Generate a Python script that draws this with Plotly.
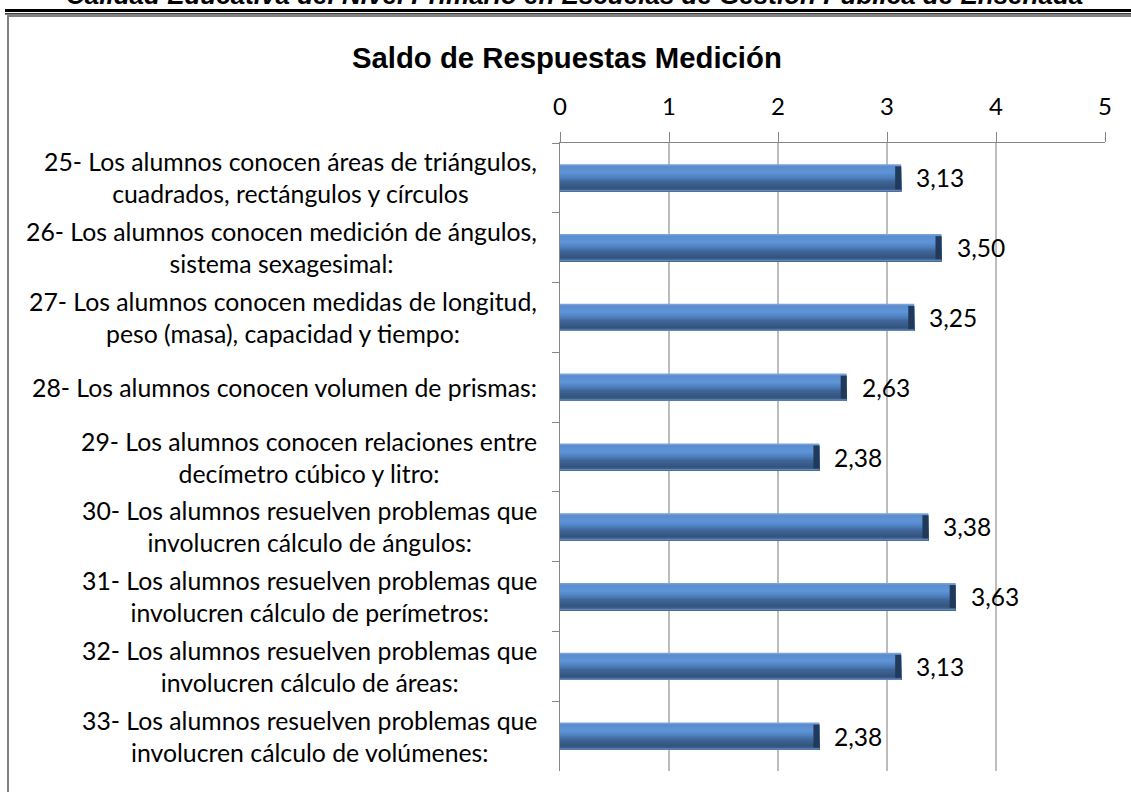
import plotly.graph_objects as go

categories = [
    "25- Los alumnos conocen áreas de triángulos,<br>cuadrados, rectángulos y círculos",
    "26- Los alumnos conocen medición de ángulos,<br>sistema sexagesimal:",
    "27- Los alumnos conocen medidas de longitud,<br>peso (masa), capacidad y tiempo:",
    "28- Los alumnos conocen volumen de prismas:",
    "29- Los alumnos conocen relaciones entre<br>decímetro cúbico y litro:",
    "30- Los alumnos resuelven problemas que<br>involucren cálculo de ángulos:",
    "31- Los alumnos resuelven problemas que<br>involucren cálculo de perímetros:",
    "32- Los alumnos resuelven problemas que<br>involucren cálculo de áreas:",
    "33- Los alumnos resuelven problemas que<br>involucren cálculo de volúmenes:",
]
values = [3.13, 3.50, 3.25, 2.63, 2.38, 3.38, 3.63, 3.13, 2.38]
x_ticks = [0, 1, 2, 3, 4, 5]
title_text = "Saldo de Respuestas Medición"
header_text = "Calidad Educativa del Nivel Primario en Escuelas de Gestión Pública de Ensenada"

W, H = 1131, 792
# plot area in page pixels: x 560..1105, y 143..771
PL, PR, PT, PB = 560, 1105, 143, 771
L, R, T, B = PL, W - PR, PT, H - PB
PW = PR - PL
PH = PB - PT


def px(xp):
    return (xp - PL) / PW


def py(yp):
    return (PB - yp) / PH


def hex2rgb(h):
    h = h.lstrip("#")
    return tuple(int(h[i:i + 2], 16) for i in (0, 2, 4))


def grad_color(stops, t):
    for (t0, c0), (t1, c1) in zip(stops, stops[1:]):
        if t0 <= t <= t1:
            f = 0 if t1 == t0 else (t - t0) / (t1 - t0)
            a, b = hex2rgb(c0), hex2rgb(c1)
            return "rgb(%d,%d,%d)" % tuple(round(a[i] + (b[i] - a[i]) * f) for i in range(3))
    return stops[-1][1]


FONT = "Lato"
fig = go.Figure()

# vertical gradient imitating the bevelled bar (top -> bottom); each slice runs
# from its own top edge down to the bar bottom so no seams show between slices
BW = 0.39
stops = [(0.0, "#86ABDC"), (0.08, "#5A8DCF"), (0.3, "#5F95D8"), (0.5, "#4C7DBB"),
         (0.62, "#3F6698"), (0.86, "#34547F"), (0.93, "#3D618F"), (1.0, "#7C9ECD")]
NS = 18
for k in range(NS):
    t = (k + 0.5) / NS
    fig.add_trace(go.Bar(
        x=values, y=categories, orientation="h",
        offset=-BW / 2 + k * BW / NS, width=BW - k * BW / NS,
        marker=dict(color=grad_color(stops, t), line=dict(width=0)),
        hoverinfo="skip", showlegend=False,
    ))

# dark right-end cap
cap = 0.055
fig.add_trace(go.Bar(
    x=[cap] * len(values), base=[v - cap for v in values], y=categories,
    orientation="h", offset=-BW / 2 + 0.03, width=BW - 0.06,
    marker=dict(color="#22395A", line=dict(width=0)),
    hoverinfo="skip", showlegend=False,
))

fig.update_layout(
    width=W, height=H,
    margin=dict(l=L, r=R, t=T, b=B, pad=0),
    paper_bgcolor="white", plot_bgcolor="white",
    barmode="overlay",
    font=dict(family=FONT, size=24, color="black"),
    xaxis=dict(
        side="top", range=[0, 5], tickvals=x_ticks,
        ticktext=[str(t) for t in x_ticks],
        showgrid=True, gridcolor="#BDBDBD", gridwidth=1.5,
        showline=True, linecolor="#868686", linewidth=1,
        ticks="outside", ticklen=10, tickcolor="#868686",
        ticklabelstandoff=7,
        tickfont=dict(family=FONT, size=24, color="black"),
        zeroline=False, fixedrange=True,
    ),
    yaxis=dict(
        type="category", categoryorder="array", categoryarray=categories,
        autorange="reversed", showticklabels=False,
        showline=True, linecolor="#868686", linewidth=1,
        ticks="outside", ticklen=7, tickcolor="#868686",
        tickson="boundaries", showgrid=False, zeroline=False,
        fixedrange=True,
    ),
)

annotations = []
for c, v in zip(categories, values):
    annotations.append(dict(
        xref="paper", yref="y", x=0, y=c, xanchor="right", yanchor="middle",
        xshift=-21, text=c, align="center", showarrow=False,
        font=dict(family=FONT, size=24.8, color="black"),
    ))
    annotations.append(dict(
        xref="x", yref="y", x=v, y=c, xanchor="left", yanchor="middle",
        xshift=13, text=f"{v:.2f}".replace(".", ","), showarrow=False,
        font=dict(family=FONT, size=24.5, color="black"),
    ))

annotations.append(dict(
    xref="paper", yref="paper", x=px(567), y=py(58), xanchor="center",
    yanchor="middle", text=f"<b>{title_text}</b>", showarrow=False,
    font=dict(family="Liberation Sans, Arial", size=29.3, color="black"),
))
annotations.append(dict(
    xref="paper", yref="paper", x=px(574), y=py(12.5), xanchor="center",
    yanchor="bottom", text=f"<b><i>{header_text}</i></b>", showarrow=False,
    font=dict(family="Liberation Sans, Arial", size=26, color="black"),
))
fig.update_layout(annotations=annotations)

shapes = [
    dict(type="line", xref="paper", yref="paper", x0=px(5), x1=px(1140),
         y0=py(10.5), y1=py(10.5), line=dict(color="black", width=3)),
    dict(type="line", xref="paper", yref="paper", x0=px(5), x1=px(1140),
         y0=py(13.8), y1=py(13.8), line=dict(color="black", width=1.3)),
    dict(type="rect", xref="paper", yref="paper", x0=px(8), x1=px(1145),
         y0=py(800), y1=py(16), line=dict(color="#808080", width=2),
         fillcolor="rgba(0,0,0,0)", layer="below"),
]
fig.update_layout(shapes=shapes)

fig.write_html(
    "out.html",
    config={"displayModeBar": False, "staticPlot": True},
    post_script="document.body.style.margin='0';document.body.style.overflow='hidden';",
)
